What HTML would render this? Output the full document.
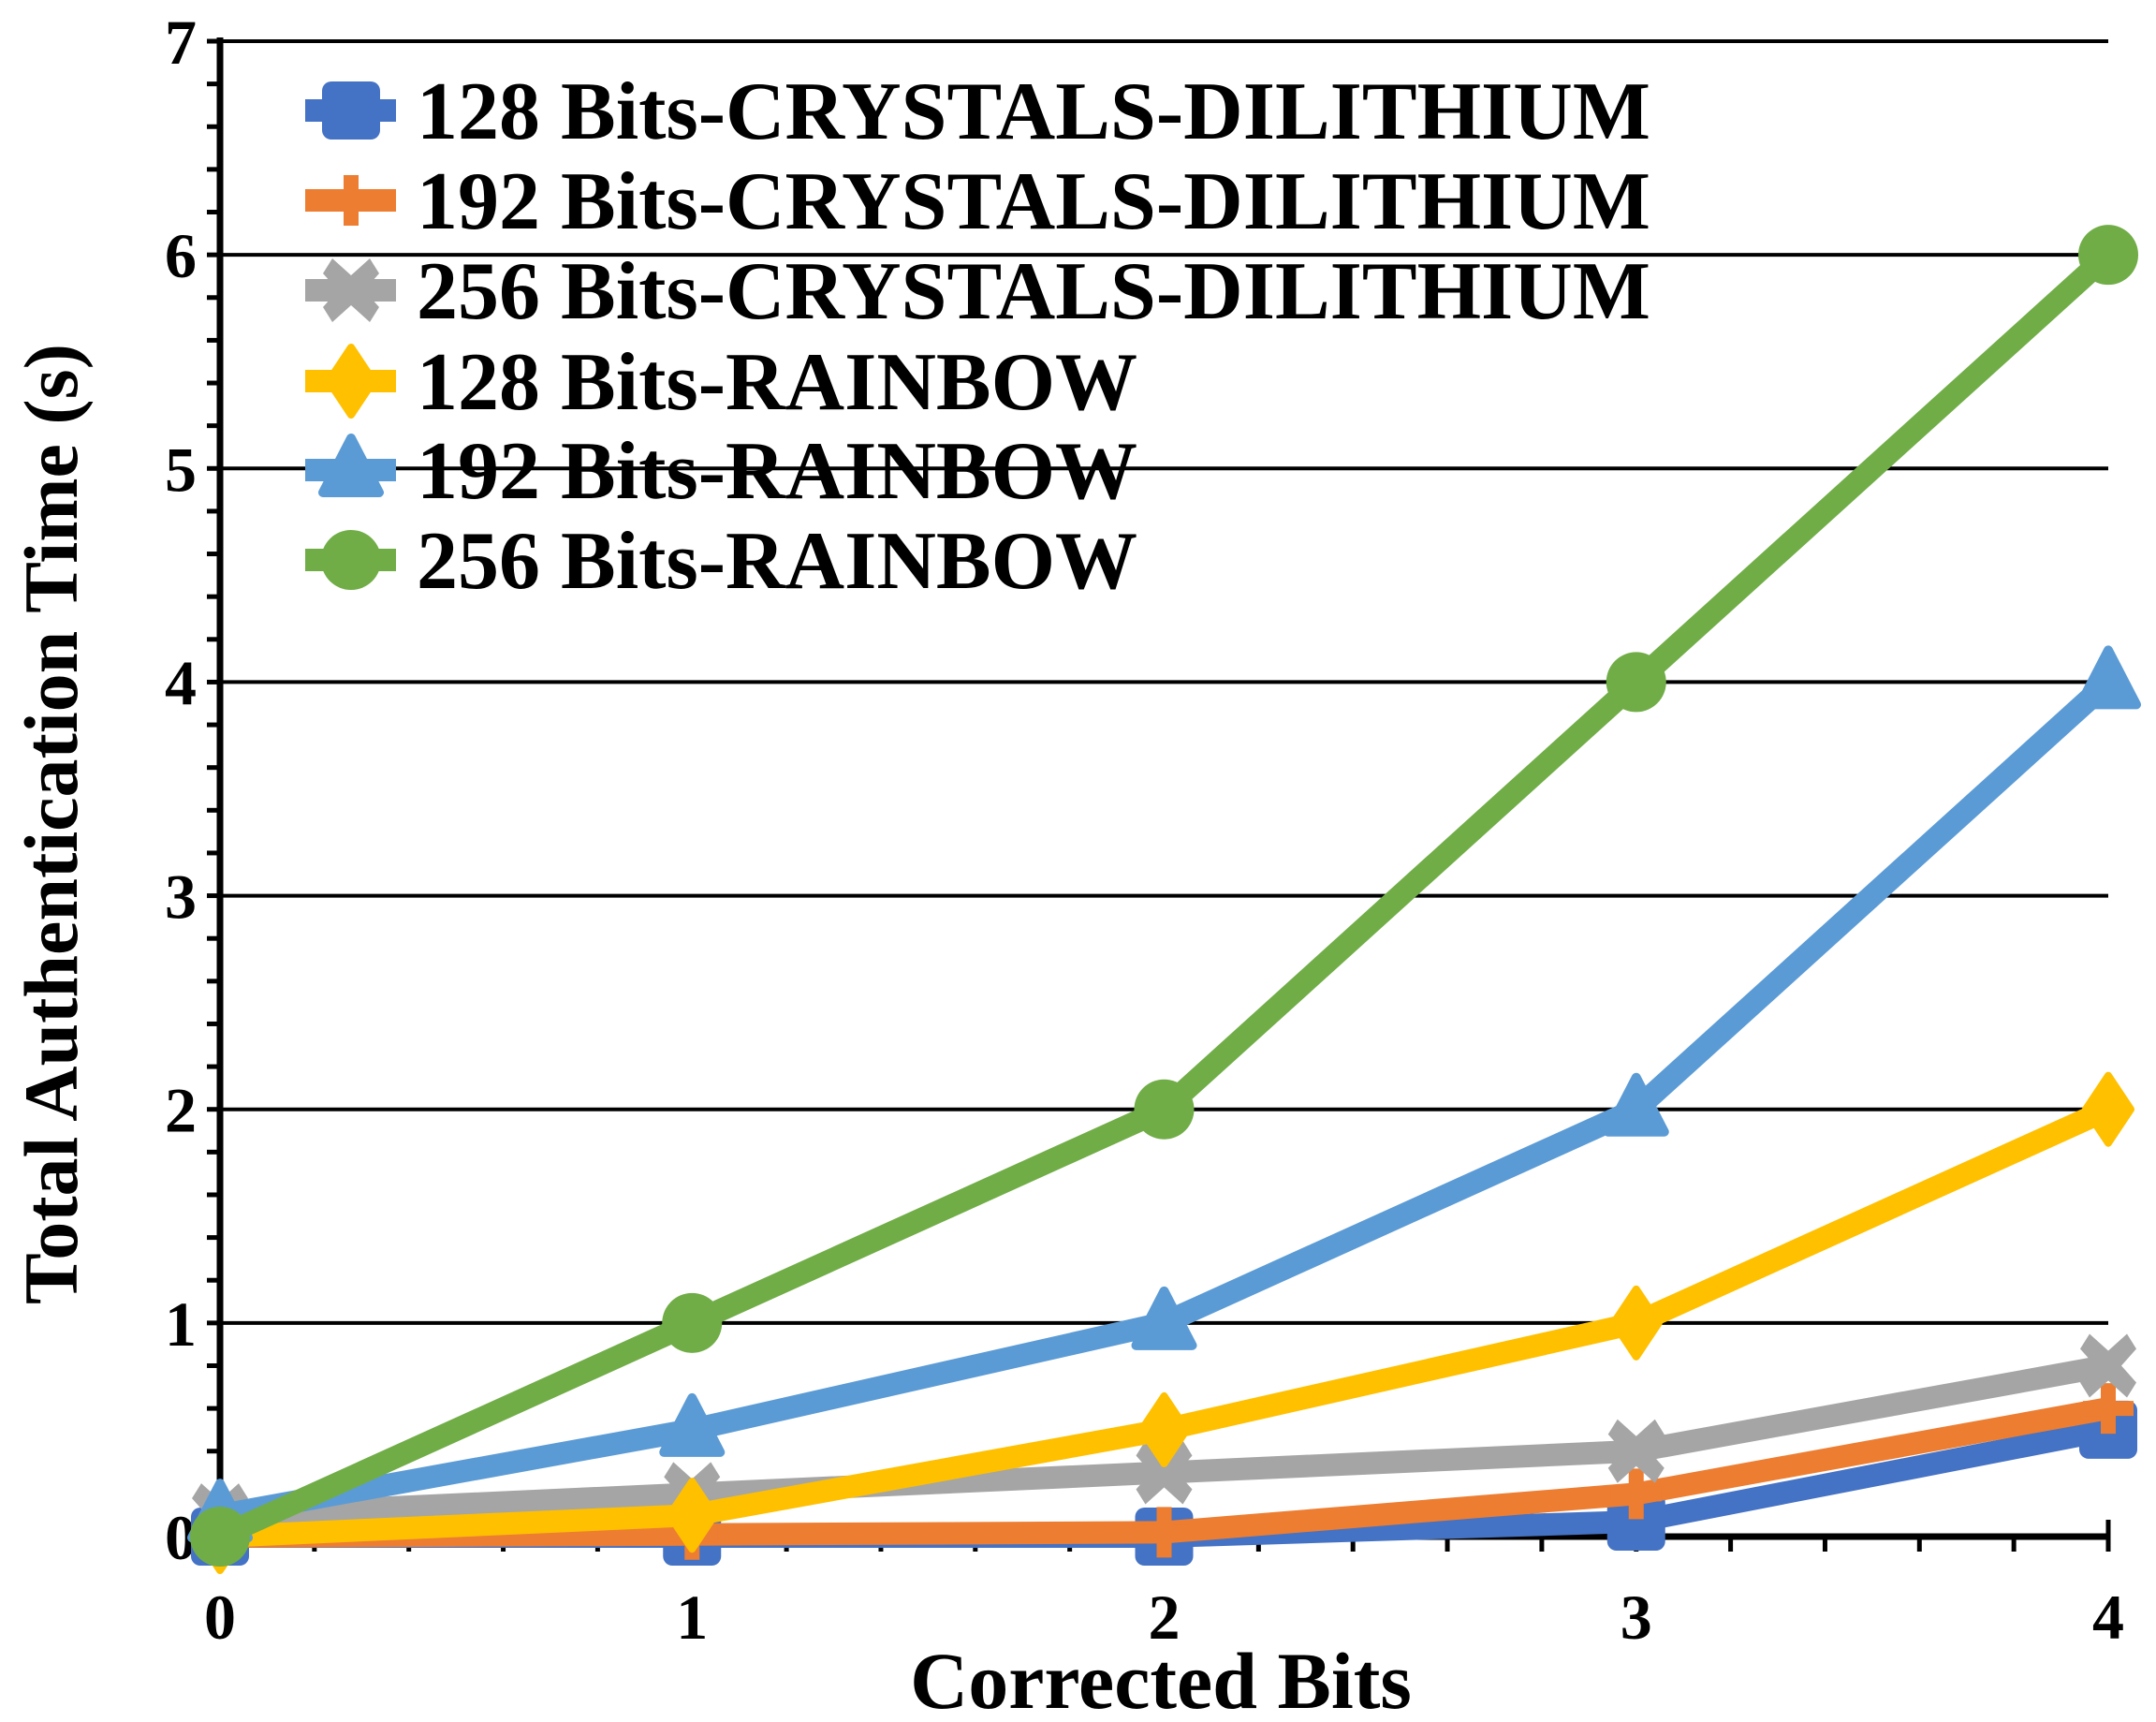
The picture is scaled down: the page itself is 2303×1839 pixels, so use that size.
<!DOCTYPE html>
<html><head><meta charset="utf-8"><style>
html,body{margin:0;padding:0;background:#fff}
svg{display:block}
text{font-family:"Liberation Serif",serif;font-weight:bold;fill:#000}
</style></head><body>
<svg id="chart" width="2303" height="1839" viewBox="0 0 2303 1839" xmlns="http://www.w3.org/2000/svg">
<g id="grid"></g>
<g id="axes"></g>
<g id="series"></g>
<g id="legend"></g>
<text x="1240" y="1824" font-size="86" text-anchor="middle">Corrected Bits</text>
<text x="0" y="0" font-size="82" text-anchor="middle" transform="translate(82,880) rotate(-90)">Total Authentication Time (s)</text>
</svg>
<script>
const xCategories = [0, 1, 2, 3, 4];
const yTicks = [0, 1, 2, 3, 4, 5, 6, 7];
const seriesNames = ["128 Bits-CRYSTALS-DILITHIUM","192 Bits-CRYSTALS-DILITHIUM","256 Bits-CRYSTALS-DILITHIUM","128 Bits-RAINBOW","192 Bits-RAINBOW","256 Bits-RAINBOW"];
const dil128 = [0, 0, 0, 0.07, 0.5];
const dil192 = [0, 0.01, 0.02, 0.2, 0.6];
const dil256 = [0.1, 0.2, 0.3, 0.4, 0.8];
const rain128 = [0, 0.1, 0.5, 1, 2];
const rain192 = [0.1, 0.5, 1, 2, 4];
const rain256 = [0, 1, 2, 4, 6];

const NS="http://www.w3.org/2000/svg";
const X0=235,X1=2252,Y0=1641,Y7=44;
const xs=v=>X0+(v-0)/(4-0)*(X1-X0);
const ys=v=>Y0-(v-0)/(7-0)*(Y0-Y7);
function mk(tag,attrs,parent){const e=document.createElementNS(NS,tag);for(const k in attrs)e.setAttribute(k,attrs[k]);parent.appendChild(e);return e;}
const grid=document.getElementById('grid'),axes=document.getElementById('axes'),ser=document.getElementById('series'),leg=document.getElementById('legend');

yTicks.forEach(t=>{
  if(t>0){const g=mk('line',{x1:X0,x2:X1,y1:ys(t),y2:ys(t),stroke:'#000','stroke-width':4},grid);
  
  }
  const l=mk('text',{x:210,y:ys(t)+24,'font-size':68,'text-anchor':'end'},axes);l.textContent=t;
  
  
});
for(let v=0;v<=7.0001;v+=0.2){mk('line',{x1:X0-14,x2:X0,y1:ys(v),y2:ys(v),stroke:'#000','stroke-width':5},axes);}
for(let v=0.2;v<=4.0001;v+=0.2){mk('line',{x1:xs(v),x2:xs(v),y1:Y0,y2:Y0+16,stroke:'#000','stroke-width':5},axes);}
mk('line',{x1:X1,x2:X1,y1:Y0-18,y2:Y0,stroke:'#000','stroke-width':5},axes);
xCategories.forEach(c=>{const l=mk('text',{x:xs(c),y:1750,'font-size':68,'text-anchor':'middle'},axes);l.textContent=c;
  
  });
const ya=mk('line',{x1:X0,x2:X0,y1:Y7-4,y2:Y0+3,stroke:'#000','stroke-width':7},axes);


const xa=mk('line',{x1:X0-3,x2:X1,y1:Y0,y2:Y0,stroke:'#000','stroke-width':7},axes);



const colors=['#4472C4','#ED7D31','#A5A5A5','#FFC000','#5B9BD5','#70AD47'];
const shapes=['square','plus','x','diamond','triangle','circle'];
const data=[dil128,dil192,dil256,rain128,rain192,rain256];
function marker(sh,cx,cy,c,p){const s=31;
  if(sh==='square')return mk('rect',{x:cx-s,y:cy-s,width:2*s,height:2*s,rx:10,fill:c},p);
  if(sh==='plus')return mk('path',{d:`M${cx-8},${cy-27}h16v19h19v16h-19v19h-16v-19h-19v-16h19z`,fill:c},p);
  if(sh==='x')return mk('path',{d:`M${cx-20},${cy-34}L${cx},${cy-16}L${cx+20},${cy-34}L${cx+30},${cy-18}L${cx+14},${cy}L${cx+30},${cy+18}L${cx+20},${cy+34}L${cx},${cy+16}L${cx-20},${cy+34}L${cx-30},${cy+18}L${cx-14},${cy}L${cx-30},${cy-18}z`,fill:c},p);
  if(sh==='diamond')return mk('path',{d:`M${cx},${cy-36}L${cx+24},${cy}L${cx},${cy+36}L${cx-24},${cy}z`,fill:c,stroke:c,'stroke-width':8,'stroke-linejoin':'round'},p);
  if(sh==='triangle')return mk('path',{d:`M${cx},${cy-34}L${cx+30},${cy+24}L${cx-30},${cy+24}z`,fill:c,stroke:c,'stroke-width':10,'stroke-linejoin':'round'},p);
  return mk('circle',{cx:cx,cy:cy,r:32,fill:c},p);
}
data.forEach((arr,i)=>{
  const g=mk('g',{},ser);
  
  
  const pts=arr.map((v,j)=>xs(xCategories[j])+','+ys(v)).join(' ');
  mk('polyline',{points:pts,fill:'none',stroke:colors[i],'stroke-width':24,'stroke-linejoin':'round'},g);
  arr.forEach((v,j)=>{const m=marker(shapes[i],xs(xCategories[j]),ys(v),colors[i],g);
    
    });
  const ly=[118,214,310,407,502,598][i];
  const le=mk('g',{},leg);
  
  
  mk('line',{x1:326,x2:423,y1:ly,y2:ly,stroke:colors[i],'stroke-width':24},le);
  marker(shapes[i],375,ly,colors[i],le);
  const t=mk('text',{x:445,y:ly+30,'font-size':88},le);t.textContent=seriesNames[i];
});
</script>
</body></html>
